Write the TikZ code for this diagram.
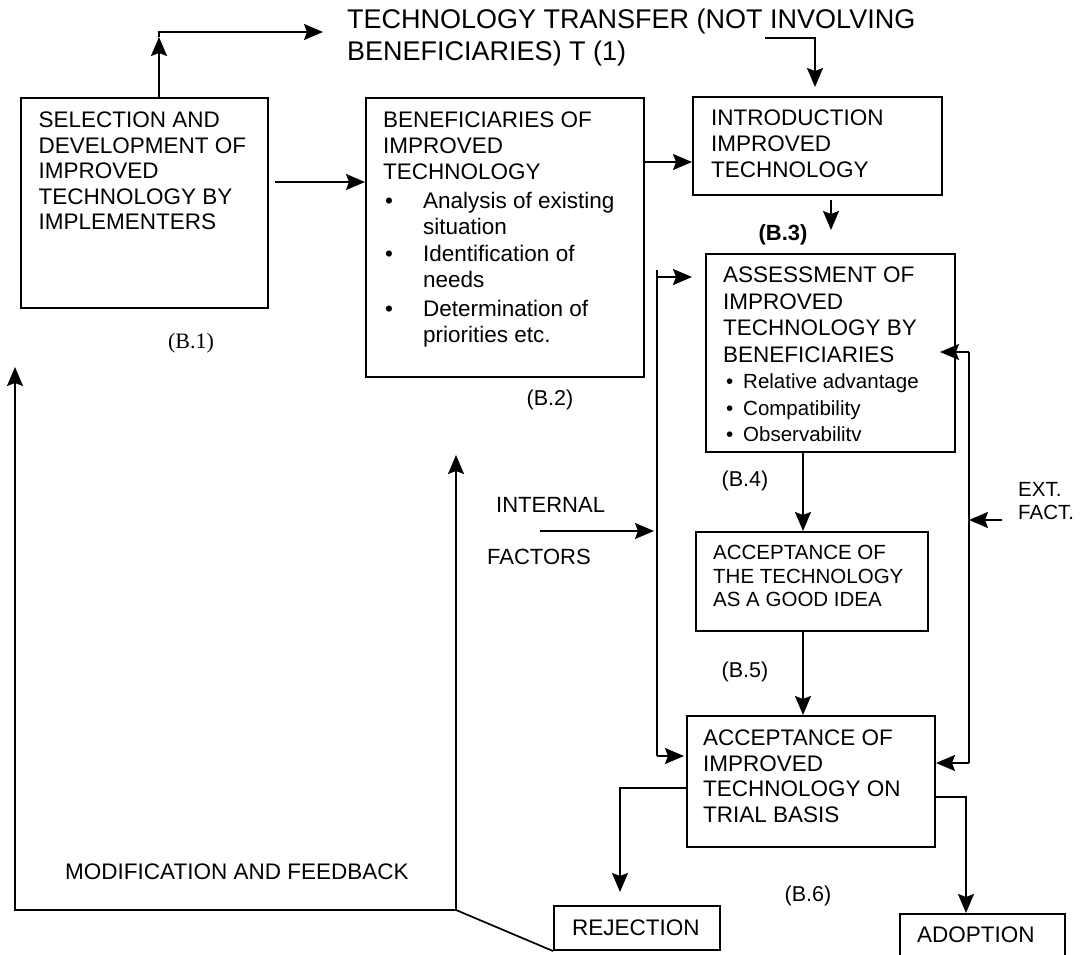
\documentclass[tikz,border=0pt]{standalone}
\usepackage{fontspec}
\setmainfont{Liberation Sans}
\newfontfamily\serifB{Liberation Serif}
\usetikzlibrary{arrows.meta,calc}
\tikzset{
  box/.style={draw, line width=2pt, inner sep=0pt, anchor=north west},
  txt/.style={inner sep=0pt, anchor=north west, align=left, font=\fontsize{22.5}{25.5}\selectfont},
  lbl/.style={inner sep=0pt, font=\fontsize{21.5}{25}\selectfont},
  conn/.style={line width=1.7pt},
  arr/.style={line width=1.7pt, -{Stealth[length=19pt,width=16pt,inset=3pt]}},
}
\begin{document}
\begin{tikzpicture}[x=1pt,y=-1pt]
\useasboundingbox (0,0) rectangle (1085,955);
\clip (0,0) rectangle (1085,955);
\fill[white] (0,0) rectangle (1085,955);

% boxes
\node[box, minimum width=247.5pt, minimum height=210pt] (B1) at (19.5,97) {};
\node[box, minimum width=278pt, minimum height=279pt] (B2) at (365,97) {};
\node[box, minimum width=249pt, minimum height=98pt] (Intro) at (692,96) {};
\node[box, minimum width=249pt, minimum height=198pt] (Assess) at (705,253) {};
\node[box, minimum width=232pt, minimum height=99pt] (Accept) at (695,531) {};
\node[box, minimum width=248pt, minimum height=131pt] (Trial) at (686,715) {};
\node[box, minimum width=166pt, minimum height=44pt] (Reject) at (553,905) {};
\node[box, minimum width=165pt, minimum height=60pt] (Adopt) at (899,913) {};

% box texts
\node[txt] (tB1) at (38.5,112) {SELECTION AND\\DEVELOPMENT OF\\IMPROVED\\TECHNOLOGY BY\\IMPLEMENTERS};
\node[txt, font=\fontsize{22.5}{26}\selectfont] (tB2) at (383,112) {BENEFICIARIES OF\\IMPROVED\\TECHNOLOGY\\[3pt]
\hspace*{2pt}\makebox[38pt][l]{\textbullet}Analysis of existing\\
\hspace*{40pt}situation\\[1pt]
\hspace*{2pt}\makebox[38pt][l]{\textbullet}Identification of\\
\hspace*{40pt}needs\\[3pt]
\hspace*{2pt}\makebox[38pt][l]{\textbullet}Determination of\\
\hspace*{40pt}priorities etc.};
\node[txt, font=\fontsize{22.5}{26}\selectfont] (tIntro) at (711,110) {INTRODUCTION\\IMPROVED\\TECHNOLOGY};
\node[txt, font=\fontsize{22.5}{26.5}\selectfont] (tAssess) at (723,267) {ASSESSMENT OF\\IMPROVED\\TECHNOLOGY BY\\BENEFICIARIES\\
{\fontsize{20.5}{26.5}\selectfont\hspace*{3pt}\makebox[17pt][l]{\textbullet}Relative advantage}\\
{\fontsize{20.5}{26.5}\selectfont\hspace*{3pt}\makebox[17pt][l]{\textbullet}Compatibility}\\
{\fontsize{20.5}{26.5}\selectfont\hspace*{3pt}\makebox[17pt][l]{\textbullet}Observabilitv}};
\node[txt, font=\fontsize{20.5}{23.5}\selectfont] (tAccept) at (713,545) {ACCEPTANCE OF\\THE TECHNOLOGY\\AS A GOOD IDEA};
\node[txt] (tTrial) at (703,730) {ACCEPTANCE OF\\IMPROVED\\TECHNOLOGY ON\\TRIAL BASIS};
\node[txt] (tReject) at (572,920) {REJECTION};
\node[txt] (tAdopt) at (917,927) {ADOPTION};

% free labels
\node[txt, font=\fontsize{27}{31.5}\selectfont] (title) at (347,9) {TECHNOLOGY TRANSFER (NOT INVOLVING\\BENEFICIARIES) T (1)};
\node[lbl, font=\serifB\fontsize{22}{25}\selectfont] (lB1) at (191,343) {(B.1)};
\node[lbl] (lB2) at (550,400) {(B.2)};
\node[lbl, font=\bfseries\fontsize{22}{25}\selectfont] (lB3) at (783,235) {(B.3)};
\node[lbl] (lB4) at (745,481) {(B.4)};
\node[lbl] (lB5) at (745,672) {(B.5)};
\node[lbl] (lB6) at (808,896) {(B.6)};
\node[txt, font=\fontsize{22}{25}\selectfont] (lInt) at (496,497) {INTERNAL};
\node[txt, font=\fontsize{22}{25}\selectfont] (lFac) at (487,549) {FACTORS};
\node[txt, font=\fontsize{20.5}{23}\selectfont] (lExt) at (1018,482) {EXT.\\FACT.};
\node[txt] (lMod) at (65,864) {MODIFICATION AND FEEDBACK};

% helper coordinates
\coordinate (tA) at (159,37);
\coordinate (tB) at (323,32);
\coordinate (tC) at (765,38);
\coordinate (x815) at (815,0);
\coordinate (y182) at (0,182);
\coordinate (y162) at (0,162);
\coordinate (x831) at (831,0);
\coordinate (x803) at (803,0);
\coordinate (L1) at (657,270);
\coordinate (La) at (657,277);
\coordinate (L2) at (657,756);
\coordinate (Iin) at (540,531);
\coordinate (R1) at (969,352);
\coordinate (R2) at (969,763);
\coordinate (Ein) at (1002,520);
\coordinate (y788) at (0,788);
\coordinate (x620) at (620,0);
\coordinate (y797) at (0,797);
\coordinate (x966) at (966,0);
\coordinate (F1) at (456,910);
\coordinate (F2) at (456,455);
\coordinate (F3) at (15,910);
\coordinate (F4) at (15,367);

% connectors
\draw[arr] (B1.north -| tA) -- (tA);
\draw[arr] (tA) |- (tB);
\draw[arr, shorten >=9pt] (tC) -| (Intro.north -| x815);
\draw[arr, shorten <=6pt] (B1.east |- y182) -- (B2.west |- y182);
\draw[arr] (B2.east |- y162) -- (Intro.west |- y162);
\draw[arr, shorten <=4pt, shorten >=23pt] (Intro.south -| x831) -- (Assess.north -| x831);
\draw[arr] (Assess.south -| x803) -- (Accept.north -| x803);
\draw[arr] (Accept.south -| x803) -- (Trial.north -| x803);
% internal factors bus
\draw[conn] (L1) -- (L2);
\draw[arr, shorten >=13pt] (La) -- (Assess.west |- La);
\draw[arr, shorten >=2pt] (L2) -- (Trial.west |- L2);
\draw[arr, shorten >=3pt] (Iin) -- (Iin -| L1);
% external factors bus
\draw[conn] (R1) -- (R2);
\draw[arr, shorten >=-16pt] (R1) -- (Assess.east |- R1);
\draw[arr] (R2) -- (Trial.east |- R2);
\draw[arr] (Ein) -- (Ein -| R1);
% outcomes
\draw[arr, shorten >=13pt] (Trial.west |- y788) -| (Reject.north -| x620);
\draw[arr] (Trial.east |- y797) -| (Adopt.north -| x966);
% feedback
\draw[conn] (Reject.south west) -- (F1);
\draw[arr] (F1) -- (F2);
\draw[arr] (F1) -- (F3) -- (F4);
\end{tikzpicture}
\end{document}
